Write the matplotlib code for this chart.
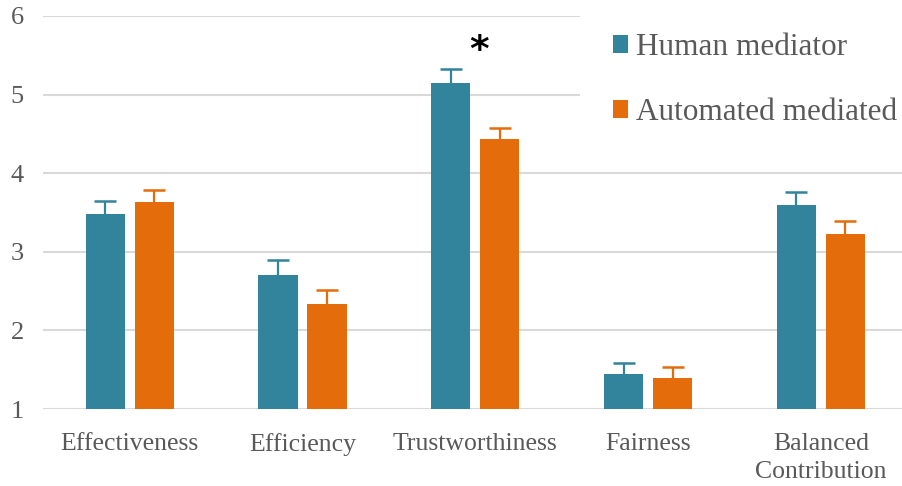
import numpy as np
import matplotlib
matplotlib.use('Agg')
import matplotlib.pyplot as plt

# Dados
categorias = ['Effectiveness', 'Efficiency', 'Trustworthiness', 'Fairness', 'Balanced\nContribution']
humano = [3.48, 2.70, 5.15, 1.45, 3.60]
humano_err = [0.16, 0.19, 0.17, 0.14, 0.16]
automatizado = [3.63, 2.33, 4.43, 1.39, 3.23]
automatizado_err = [0.16, 0.18, 0.15, 0.14, 0.16]
rotulos_series = ['Human mediator', 'Automated mediated']

COR_HUMANO = '#31849B'
COR_AUTO = '#E46C0A'
COR_TEXTO = '#595959'

plt.rcParams['font.family'] = ['Liberation Serif', 'DejaVu Serif']


def barras_erro(ax, xs, valores, erros, cor):
    zeros = np.zeros(len(valores))
    _, caps, _ = ax.errorbar(xs, valores, yerr=[zeros, erros], fmt='none',
                             ecolor=cor, elinewidth=1.6, capsize=8, capthick=1.8, zorder=4)
    # só o traço de cima (erro unilateral)
    caps[0].set_visible(False)


def plotar():
    fig = plt.figure(figsize=(9.02, 4.86), dpi=100)
    ax = fig.add_axes([43.3 / 902, 77 / 486, 864 / 902, 393 / 486])

    x = np.arange(len(categorias))
    largura = 0.227
    desloc = 0.1415

    ax.bar(x - desloc, np.array(humano) - 1, largura, bottom=1, color=COR_HUMANO,
           label=rotulos_series[0], zorder=3)
    ax.bar(x + desloc, np.array(automatizado) - 1, largura, bottom=1, color=COR_AUTO,
           label=rotulos_series[1], zorder=3)

    barras_erro(ax, x - desloc, humano, humano_err, COR_HUMANO)
    barras_erro(ax, x + desloc, automatizado, automatizado_err, COR_AUTO)

    # asterisco de significância
    ax.text(2.02, 5.55, '*', ha='center', va='center', fontsize=27, fontweight='bold',
            color='black', family='DejaVu Sans')

    ax.set_xlim(-0.5, len(categorias) - 0.5)
    ax.set_ylim(1, 6)
    ax.set_yticks([1, 2, 3, 4, 5, 6])
    ax.set_xticks(x)
    ax.set_xticklabels(categorias, fontsize=18.5, color=COR_TEXTO, linespacing=1.4)
    ax.tick_params(axis='y', length=0, pad=14, labelsize=19, labelcolor=COR_TEXTO)
    ax.tick_params(axis='x', length=0, pad=17)
    ax.grid(axis='y', color='#D9D9D9', linewidth=1.5, zorder=0)
    for s in ax.spines.values():
        s.set_visible(False)

    leg = fig.legend(loc='upper left', bbox_to_anchor=(580 / 902, 1.0),
                     bbox_transform=fig.transFigure, fontsize=22.5, frameon=True,
                     facecolor='white', edgecolor='none', framealpha=1,
                     handlelength=0.5, handleheight=0.5, handletextpad=0.25,
                     labelspacing=1.15, borderpad=1.05, borderaxespad=0)
    for t in leg.get_texts():
        t.set_color(COR_TEXTO)
    leg.set_zorder(10)

    fig.savefig('out.png', dpi=100)
    plt.close(fig)


if __name__ == '__main__':
    plotar()
